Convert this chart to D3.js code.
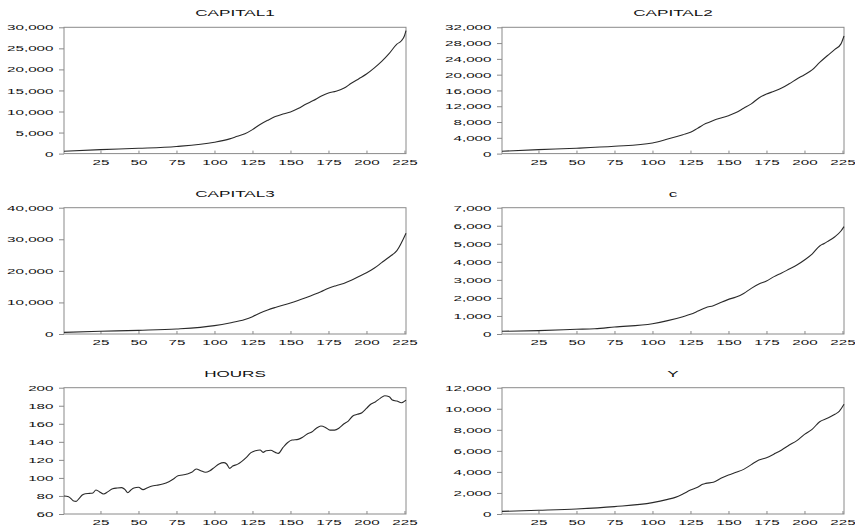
<!DOCTYPE html>
<html><head><meta charset="utf-8">
<script src="https://cdn.jsdelivr.net/npm/d3@7"></script>
<style>
html,body{margin:0;padding:0;background:#fff;}
svg{display:block;}
text{font-family:"Liberation Sans",Arial,Helvetica,sans-serif;fill:#111;}
</style></head>
<body>
<svg id="chart" width="855" height="526"></svg>
<script>
const xTicks = [25, 50, 75, 100, 125, 150, 175, 200, 225];

const capital1Obs = [1,25,50,75,100,110,115,120,125,130,135,140,145,150,155,160,165,170,175,180,185,190,195,200,205,210,215,220,223,225,226];
const capital1Val = [550,950,1260,1700,2700,3500,4100,4700,5700,6900,7900,8800,9400,9900,10700,11700,12600,13600,14400,14800,15500,16700,17800,18900,20300,21900,23800,26000,26800,28000,29200];

const capital2Obs = [1,25,50,75,100,110,120,125,130,135,140,150,155,160,165,170,175,180,185,190,195,200,205,210,215,220,224,226];
const capital2Val = [600,1000,1350,1850,2700,3700,4800,5400,6500,7600,8400,9600,10400,11500,12600,14100,15100,15800,16600,17700,18900,20000,21200,23100,24800,26400,27800,29800];

const capital3Obs = [1,25,50,75,100,110,120,125,130,135,140,150,160,170,175,180,185,190,195,200,205,210,215,220,226];
const capital3Val = [530,850,1160,1580,2640,3500,4600,5500,6650,7600,8400,9800,11500,13400,14500,15300,16000,17000,18200,19400,20800,22600,24400,26400,31900];

const cObs = [1,25,50,62,75,100,110,120,125,130,135,140,150,155,160,165,170,175,180,185,190,195,200,205,210,213,215,220,224,226];
const cVal = [150,185,260,295,390,570,740,960,1090,1270,1460,1570,1920,2050,2250,2530,2770,2940,3180,3380,3600,3820,4100,4430,4880,5020,5120,5390,5710,5950];

const hoursObs = [1,4,7,9,11,13,15,18,20,22,24,27,30,33,36,39,41,43,45,47,50,53,56,59,62,66,70,73,76,79,82,85,88,91,94,97,100,103,106,108,110,112,115,118,121,124,127,130,132,134,137,140,142,145,148,151,155,158,161,164,167,170,173,176,179,182,185,188,191,194,197,200,203,206,209,212,215,217,220,223,226];
const hoursVal = [79.9,79.2,74.8,74,77.4,81,82.5,82.9,83.3,86.6,85,82.2,84.8,88,88.8,89.2,87.3,83.6,86.6,88.8,89.6,87,89.2,91,91.8,93.2,95.8,98.8,102.5,103.2,104.3,106.2,109.9,108,106.2,108,111.7,115.4,116.9,115.4,110.6,113.2,115,118.4,122.8,128,130.2,131,128.3,130.2,130.6,128.3,127.2,133.5,139,142,142.7,145,148.7,150.9,155,157.5,156,153,153,155.3,159.7,163,168.6,170.5,172.3,177.1,182,184.5,188.2,191.1,190,186.3,185.2,183.4,186.3];

const yObs = [1,25,50,75,100,110,115,120,125,130,133,135,140,145,150,155,160,165,170,175,180,185,190,195,200,205,210,215,220,223,226];
const yVal = [250,350,475,700,1080,1390,1580,1900,2280,2560,2820,2910,3010,3390,3700,3960,4240,4690,5130,5350,5700,6080,6550,6970,7570,8040,8770,9090,9470,9780,10420];

const panels = [
  {title:"CAPITAL1", obs:capital1Obs, val:capital1Val, yMin:0, yMax:30000, yStep:5000},
  {title:"CAPITAL2", obs:capital2Obs, val:capital2Val, yMin:0, yMax:32000, yStep:4000},
  {title:"CAPITAL3", obs:capital3Obs, val:capital3Val, yMin:0, yMax:40000, yStep:10000},
  {title:"c",        obs:cObs,        val:cVal,        yMin:0, yMax:7000,  yStep:1000},
  {title:"HOURS",    obs:hoursObs,    val:hoursVal,    yMin:60, yMax:200,  yStep:20},
  {title:"Y",        obs:yObs,        val:yVal,        yMin:0, yMax:12000, yStep:2000}
];

// ---- Layout ----
const colLeft = [64, 502];
const plotW = 342;
const rowTop = [27.3, 207.7, 387.7];
const plotH = 126.3;
const SX = 1.9;   // horizontal text stretch seen in the reference
const frameColor = "#8a8a8a";
const lineColor = "#2a2a2a";

const svg = d3.select("#chart");
const fmt = d3.format(",");

panels.forEach((p, i) => {
  const col = i % 2, row = Math.floor(i / 2);
  const g = svg.append("g").attr("transform", `translate(${colLeft[col]},${rowTop[row]})`);

  const x = d3.scaleLinear().domain([1, 226]).range([0, plotW]);
  const y = d3.scaleLinear().domain([p.yMin, p.yMax]).range([plotH, 0]);
  const yTicks = d3.range(p.yMin, p.yMax + p.yStep / 2, p.yStep);

  // title
  g.append("text")
    .attr("transform", `translate(${plotW / 2},-11) scale(1.8,1)`)
    .attr("text-anchor", "middle")
    .style("font-size", "9.5px")
    .text(p.title);

  // y axis
  const ya = g.append("g")
    .call(d3.axisLeft(y).tickValues(yTicks).tickFormat(fmt).tickSize(5).tickPadding(5.5));
  ya.select(".domain").remove();
  ya.selectAll(".tick line").attr("stroke", frameColor);
  ya.selectAll(".tick text").each(function () {
    const t = d3.select(this);
    const tx = +t.attr("x");
    t.attr("x", 0).attr("transform", `translate(${tx},0) scale(${SX},1)`)
     .style("font-size", "8px").attr("fill", "#111");
  });
  ya.attr("font-family", null).attr("font-size", null);

  // x axis
  const xa = g.append("g").attr("transform", `translate(0,${plotH})`)
    .call(d3.axisBottom(x).tickValues(xTicks).tickSize(-3).tickPadding(5.5));
  xa.select(".domain").remove();
  xa.selectAll(".tick line").attr("stroke", frameColor);
  xa.selectAll(".tick text").each(function () {
    const t = d3.select(this);
    t.attr("transform", `scale(${SX},1)`).attr("x", 0)
     .style("font-size", "8px").attr("fill", "#111");
  });
  xa.selectAll(".tick").each(function (d) {
    // keep label centered after scaling: scale applies about tick origin (x=0), fine
  });
  xa.attr("font-family", null).attr("font-size", null);

  // frame
  g.append("rect").attr("x", 0).attr("y", 0).attr("width", plotW).attr("height", plotH)
    .attr("fill", "none").attr("stroke", frameColor).attr("stroke-width", 1);

  // line
  const data = p.obs.map((o, k) => [o, p.val[k]]);
  g.append("path").datum(data)
    .attr("fill", "none").attr("stroke", lineColor).attr("stroke-width", 1.1)
    .attr("d", d3.line().x(d => x(d[0])).y(d => y(d[1])).curve(d3.curveMonotoneX));
});
</script>
</body></html>
